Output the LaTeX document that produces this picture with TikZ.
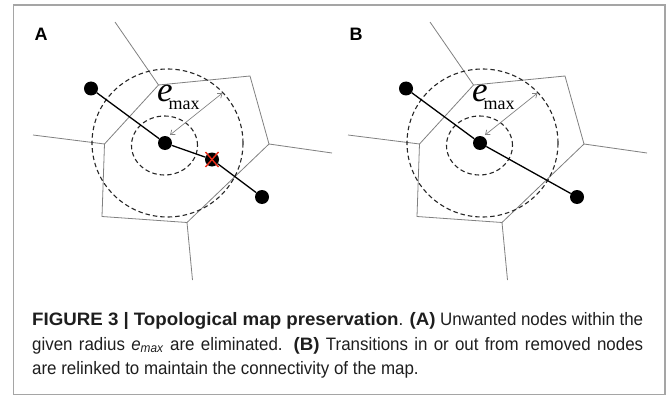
\documentclass[tikz,border=0pt]{standalone}
\usepackage{fontspec}
\setmainfont{Liberation Sans}
\newfontfamily\serifem{Liberation Serif}
\newfontfamily\capreg{Liberation Sans}[FakeStretch=0.94]
\newfontfamily\capbold{Liberation Sans}[FakeStretch=1.04]
\usetikzlibrary{arrows.meta}
\definecolor{vgray}{RGB}{128,128,128}
\definecolor{framegray}{RGB}{165,165,165}
\definecolor{xred}{RGB}{235,45,25}
\definecolor{captext}{RGB}{30,30,30}
\newcommand\cb[1]{{\capbold\bfseries #1}}
\newcommand\drawpanel[1]{%
  \coordinate (v1) at (158.5,85);
  \coordinate (v2) at (250,76);
  \coordinate (v3) at (269,144);
  \coordinate (v4) at (187,222.5);
  \coordinate (v5) at (102,216.5);
  \coordinate (v6) at (104.5,144);
  \coordinate (r1) at (115,22);
  \coordinate (r3) at (332,153);
  \coordinate (r4) at (192.5,280);
  \coordinate (r6) at (33,135);
  \draw[vor] (v1) -- (v2) -- (v3) -- (v4) -- (v5) -- (v6) -- cycle;
  \draw[vor] (v1) -- (r1);
  \draw[vor] (v3) -- (r3);
  \draw[vor] (v4) -- (r4);
  \draw[vor] (v6) -- (r6);
  \draw[dashcirc] (164.5,145.5) ellipse [x radius=33pt, y radius=29.5pt];
  \draw[dashcirc] (167.5,143) ellipse [x radius=75.5pt, y radius=74pt];
  \node[lbl] (lab) at (41,34) {#1};
  \node[dot] (l) at (91,88.5) {};
  \node[dot] (c) at (165,143) {};
  \node[dot] (r) at (262,197) {};
  \draw[edge] (l) -- (c);
  \coordinate (as) at (170,135);
  \coordinate (ae) at (222.5,93);
  \draw[emarrow] (as) -- (ae);
  \node[anchor=base west, inner sep=0pt] (e) at (157,101.5)
    {\serifem{\fontsize{35}{35}\selectfont\itshape e}\kern-4pt\raisebox{-8.5pt}{\fontsize{18}{18}\selectfont max}};
}
\begin{document}
\begin{tikzpicture}[x=1pt,y=-1pt,
  dot/.style={circle,fill=black,inner sep=0pt,minimum size=14pt},
  vor/.style={draw=vgray,line width=0.8pt,line join=miter},
  dashcirc/.style={draw=black!85,line width=1.1pt,dash pattern=on 4.5pt off 3pt},
  edge/.style={draw=black,line width=1.3pt},
  emarrow/.style={draw=vgray,line width=0.7pt,arrows={Straight Barb[length=4pt,width=6pt]-Straight Barb[length=4pt,width=6pt]}},
  lbl/.style={font=\fontsize{18}{18}\selectfont\bfseries,inner sep=0pt},
  redx/.style={draw=xred,line width=1.4pt},
  capline/.style={anchor=base west,inner sep=0pt,text=captext,font=\fontsize{18}{18}\selectfont\capreg}]
\useasboundingbox (0,0) rectangle (667,396);
\draw[framegray,line width=1.5pt] (13.5,5) rectangle (665,394.5);
\begin{scope}[name prefix=A-]
  \drawpanel{A}
  \node[dot] (x) at (212,159.5) {};
  \draw[edge] (c) -- (x) -- (r);
  \draw[redx] ([shift={(-6.5,-7.5)}]x.center) -- ([shift={(6.5,7.5)}]x.center);
  \draw[redx] ([shift={(6.5,-7.5)}]x.center) -- ([shift={(-6.5,7.5)}]x.center);
\end{scope}
\begin{scope}[xshift=315pt,name prefix=B-]
  \drawpanel{B}
  \draw[edge] (c) -- (r);
\end{scope}
\node[capline] (cap1) at (32,325) {\makebox[611pt][s]{\cb{FIGURE 3 | Topological map preservation}. \cb{(A)} Unwanted nodes within the}};
\node[capline] (cap2) at (32,350) {\makebox[611pt][s]{given radius \textit{e}\textsubscript{\textit{max}} are eliminated. \cb{(B)} Transitions in or out from removed nodes}};
\node[capline] (cap3) at (32,374.5) {are relinked to maintain the connectivity of the map.};
\end{tikzpicture}
\end{document}
